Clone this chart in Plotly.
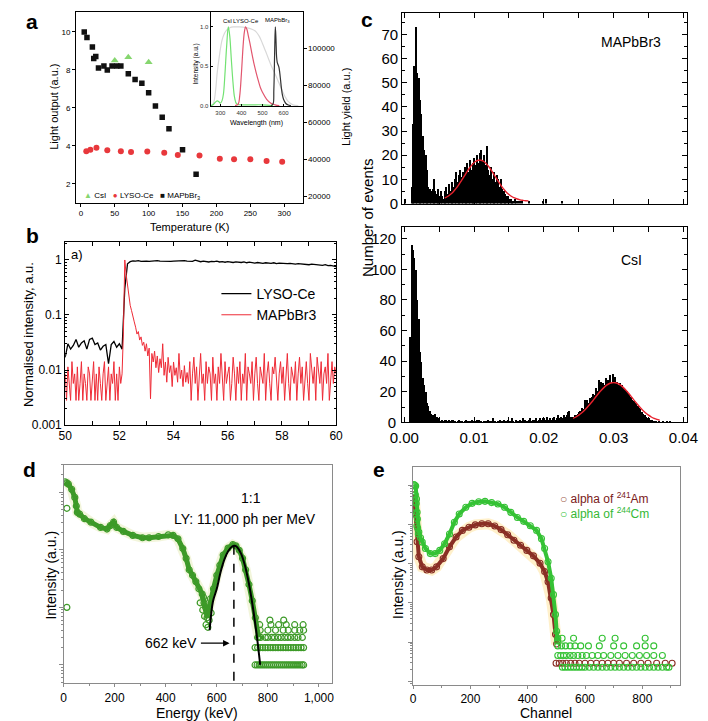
import plotly.graph_objects as go

W, H = 708, 721
FONT = "Liberation Sans, Arial, sans-serif"

# ---------------- panel a : light output vs temperature ----------------
a_temp_mapbbr3 = [5, 9, 17, 19, 22, 26, 34, 39, 46, 53, 59, 70, 80, 90, 100, 110, 120, 130, 150, 170]
a_out_mapbbr3 = [10.0, 9.7, 9.2, 8.6, 8.7, 8.1, 8.2, 8.0, 8.2, 8.2, 8.2, 7.8, 7.5, 7.3, 6.8, 6.1, 5.5, 4.9, 3.8, 2.5]
a_temp_csi = [50, 70, 100]
a_out_csi = [8.5, 8.67, 8.4]
a_temp_lyso = [8, 14, 23, 39, 59, 74, 98, 123, 143, 175, 205, 226, 250, 274, 297]
a_out_lyso = [3.71, 3.80, 3.90, 3.77, 3.71, 3.68, 3.70, 3.63, 3.52, 3.49, 3.32, 3.30, 3.30, 3.20, 3.16]
a_yield_ticks = [20000, 40000, 60000, 80000, 100000]

# inset: emission spectra
a_wl_gray = [262, 270, 278, 285, 295, 308, 320, 330, 345, 362, 390, 423, 450, 469, 485, 500, 515, 531, 546, 562, 578, 592, 608, 623, 645, 670]
a_int_gray = [0, 0.05, 0.2, 0.41, 0.62, 0.83, 0.92, 0.96, 0.99, 1.0, 1.0, 0.99, 0.97, 0.94, 0.88, 0.79, 0.69, 0.58, 0.48, 0.39, 0.29, 0.2, 0.11, 0.05, 0.01, 0]
a_wl_csi = [255, 265, 275, 285, 293, 300, 308, 315, 322, 330, 338, 345, 352, 360, 368, 378, 400, 450, 500, 550]
a_int_csi = [0.0, 0.01, 0.04, 0.06, 0.05, 0.03, 0.06, 0.15, 0.4, 0.75, 1.0, 0.88, 0.6, 0.3, 0.1, 0.02, 0.01, 0.01, 0.01, 0.0]
a_wl_lyso = [370, 385, 392, 400, 408, 414, 420, 426, 432, 440, 450, 460, 470, 480, 490, 500, 520, 540, 560, 580]
a_int_lyso = [0, 0.02, 0.12, 0.4, 0.75, 0.93, 1.0, 0.97, 0.9, 0.8, 0.66, 0.53, 0.42, 0.32, 0.23, 0.17, 0.08, 0.03, 0.01, 0]
a_wl_mapbbr3 = [540, 550, 554, 558, 561, 564, 567, 570, 574, 578, 582, 586, 590, 595, 600, 610, 620, 635]
a_int_mapbbr3 = [0, 0.02, 0.2, 0.7, 1.0, 0.85, 0.62, 0.55, 0.52, 0.49, 0.42, 0.32, 0.22, 0.13, 0.08, 0.03, 0.01, 0]

# ---------------- panel b : normalised decay ----------------
b_t0, b_dt_lyso, b_dt_mapbbr3 = 50.0, 0.1, 0.05
b_lyso = [0.017, 0.03, 0.024, 0.028, 0.036, 0.026, 0.031, 0.034, 0.024, 0.036, 0.038, 0.029, 0.031, 0.023, 0.027, 0.029, 0.013, 0.029, 0.033, 0.026, 0.03,
          0.024, 0.3, 0.85, 0.93,
          0.96, 0.95, 0.97, 0.94, 0.96, 0.95, 0.94, 0.96, 0.95, 0.97, 0.95, 0.94, 0.96, 0.95, 0.94, 0.95, 0.96, 0.94, 0.95, 0.97, 0.95, 0.96, 0.94, 0.99, 0.95,
          0.93, 0.95, 0.94, 0.92, 0.94, 0.93, 0.95, 0.92, 0.93, 0.91, 0.93, 0.92, 0.90, 0.92, 0.91, 0.90, 0.92, 0.89, 0.91, 0.90, 0.88, 0.90, 0.89, 0.87, 0.89,
          0.88, 0.87, 0.89, 0.86, 0.88, 0.87, 0.85, 0.86, 0.87, 0.85, 0.84, 0.86, 0.85, 0.83, 0.84, 0.82, 0.84, 0.83, 0.81, 0.82, 0.80, 0.82, 0.79, 0.80, 0.78, 0.76]
b_mapbbr3 = [0.0085, 0.0028, 0.0114, 0.0057, 0.0028, 0.0142, 0.0057, 0.0085, 0.0028, 0.0114, 0.0028, 0.0057, 0.0142, 0.0028, 0.0085, 0.0057, 0.0028, 0.0114, 0.0085, 0.0028,
             0.0057, 0.0142, 0.0028, 0.0085, 0.0028, 0.0114, 0.0057, 0.0028, 0.0085, 0.0142, 0.0028, 0.0057, 0.0114, 0.0028, 0.0085, 0.0057, 0.0142, 0.0028, 0.0085, 0.0028,
             0.0114, 0.0057, 0.0085,
             0.05, 1.0, 0.55, 0.33, 0.22, 0.15, 0.12, 0.09, 0.075, 0.06, 0.045, 0.05, 0.035, 0.04, 0.028, 0.032, 0.022, 0.03, 0.018, 0.025, 0.003, 0.02, 0.014, 0.022, 0.011,
             0.018, 0.009, 0.016, 0.011, 0.03, 0.008, 0.014, 0.006, 0.017, 0.009, 0.012, 0.005, 0.014, 0.008, 0.011, 0.006, 0.02, 0.007, 0.01, 0.005, 0.012, 0.006, 0.009,
             0.0057, 0.0142, 0.0028, 0.0085, 0.0171, 0.0057, 0.0114, 0.0028, 0.0085, 0.0200, 0.0057, 0.0085, 0.0028, 0.0142, 0.0057, 0.0114, 0.0085, 0.0028, 0.0171, 0.0057,
             0.0085, 0.0028, 0.0114, 0.0057, 0.0200, 0.0085, 0.0028, 0.0142, 0.0057, 0.0085, 0.0114, 0.0028, 0.0057, 0.0171, 0.0085, 0.0028, 0.0114, 0.0057, 0.0142, 0.0028,
             0.0085, 0.0057, 0.0200, 0.0028, 0.0114, 0.0085, 0.0057, 0.0142, 0.0028, 0.0085, 0.0171, 0.0057, 0.0028, 0.0114, 0.0085, 0.0057, 0.0200, 0.0028, 0.0085, 0.0142,
             0.0057, 0.0028, 0.0114, 0.0085, 0.0171, 0.0057, 0.0028, 0.0085, 0.0142, 0.0057, 0.0114, 0.0028, 0.0085, 0.0200, 0.0057, 0.0028, 0.0114, 0.0085, 0.0057, 0.0142,
             0.0028, 0.0085, 0.0171, 0.0057, 0.0114, 0.0028, 0.0085, 0.0142, 0.0057, 0.0028, 0.0200, 0.0085, 0.0057, 0.0114, 0.0028, 0.0171, 0.0085, 0.0057, 0.0142, 0.0028,
             0.0085, 0.0114, 0.0057, 0.0200, 0.0028, 0.0085, 0.0142, 0.0057, 0.0114, 0.0085]

# ---------------- panel c : pulse-height histograms ----------------
c_bin = 0.0002
c_top_start = 0.0001
c_top_counts = [2, 0, 0, 0, 0, 7, 33, 57, 73, 54, 52, 43, 37, 28, 22, 20, 14, 7, 6, 5, 6, 10, 5, 4, 6, 3, 5, 3, 2, 5,
                7, 4, 8, 5, 9, 7, 10, 13, 9, 12, 14, 11, 13, 15, 10, 17, 13, 18, 14, 17, 19, 16, 20, 17, 21, 22, 18, 20, 16, 24,
                14, 12, 15, 10, 13, 9, 12, 10, 7, 10, 6, 5, 4, 3, 3, 2, 2, 1, 1, 2, 1, 1, 0, 1, 1, 0]
c_top_extra_x = [0.0179, 0.0199, 0.0203, 0.0227]
c_top_extra_counts = [1, 1, 2, 1]
c_top_fit_start, c_top_fit_step = 0.0058, 0.0004
c_top_fit = [2.3, 2.9, 3.75, 4.8, 6.15, 7.7, 9.5, 11.3, 13.2, 14.9, 16.3, 17.4, 17.9, 17.9, 17.4, 16.3, 14.9, 13.2, 11.3, 9.5,
             7.7, 6.15, 4.8, 3.75, 2.9, 2.3, 1.85, 1.5, 1.3, 1.15, 1.1]
c_bot_start = 0.0009
c_bot_counts = ([56, 116, 113, 108, 100, 80, 68, 46, 40, 29, 25, 20, 13, 11, 8, 6, 5, 4, 6, 4, 2, 3, 1, 2] +
                [1, 2, 2, 1, 2, 1, 2, 2, 1, 0, 1, 2, 1, 1, 0, 1, 2, 1, 1, 1, 2, 1, 0, 1, 2, 2, 1, 1, 0, 1,
                 1, 0, 2, 1, 1, 3, 1, 1, 0, 1, 2, 1, 1, 2, 0, 1, 2, 1, 1, 3, 1, 0, 2, 1, 1, 2, 1, 3, 2, 1,
                 1, 2, 3, 1, 2, 2, 3, 1, 2, 3, 2, 3] +
                [3, 2, 4, 2, 3, 2, 3, 4, 2, 3, 5, 3, 4, 3, 5, 4, 5, 7, 8, 4] +
                [3, 4, 5, 5, 6, 7, 8, 10, 9, 15, 14, 15, 13, 16, 17, 19, 18, 23, 21, 28, 24, 27, 26, 25, 29, 27, 28, 31, 26, 32] +
                [29, 30, 27, 25, 26, 24, 25, 23, 22, 21, 19, 18, 17, 15, 14, 13, 12, 11, 10, 9, 7, 6, 5, 4, 3, 3, 2, 2, 1, 1, 1] +
                [0, 1, 0, 0, 1, 0, 0, 1, 0, 1])
c_bot_fit_start, c_bot_fit_step = 0.0242, 0.0004
c_bot_fit = [2.6, 3.5, 4.7, 6.1, 7.8, 9.7, 11.8, 14.0, 16.4, 18.7, 20.8, 22.7, 24.3, 25.4, 25.9, 25.9, 25.4, 24.3, 22.7, 20.8,
             18.7, 16.4, 14.0, 11.8, 9.7, 7.8, 6.1, 4.7, 3.5, 2.6, 1.9, 1.4]

# ---------------- panel d : 137Cs spectrum ----------------
d_energy = [6, 13, 19, 32, 44, 50, 54, 63, 82, 107, 145, 170, 183, 196, 208, 234, 271, 309, 335, 372,
            410, 429, 448, 467, 480, 492, 505, 518, 530, 543, 550, 556, 562, 568, 575, 587, 600, 612, 625, 644,
            663, 675, 688, 701, 713, 726, 739, 751, 764]
d_counts = [1514, 1450, 1380, 1122, 813, 575, 447, 417, 347, 302, 245, 229, 263, 302, 245, 209, 178, 162, 162, 170,
            182, 178, 155, 105, 71, 45, 36, 28, 21, 17, 12, 10, 6.6, 9, 14, 21, 36, 54, 81, 107,
            123, 117, 98, 71, 45, 25, 13, 6.6, 3]
d_scatter_energy = [13, 13, 535, 545, 552, 558, 565, 570, 578, 548, 560]
d_scatter_counts = [525, 10, 12, 9, 7, 5, 4.5, 6, 8, 15, 9]
d_floor_energy = ([750, 758, 766, 774, 782, 790, 798, 806, 814, 822, 830, 838, 846, 854, 862, 870, 878, 886, 894, 902, 910, 918, 926, 934, 940] +
                  [750, 760, 770, 780, 790, 800, 810, 820, 830, 840, 850, 860, 870, 880, 890, 900, 910, 920, 930, 940] +
                  [760, 772, 790, 800, 815, 826, 840, 852, 866, 878, 890, 905, 918, 935] +
                  [770, 800, 830, 860, 880, 905, 925, 940] +
                  [768, 812, 842, 872, 905, 938] + [808, 862])
d_floor_counts = [1] * 25 + [2] * 20 + [3] * 14 + [4] * 8 + [5] * 6 + [6] * 2
d_fit_energy = [572, 585, 600, 615, 630, 645, 660, 670, 680, 695, 710, 725, 740, 755, 770]
d_fit_counts = [4, 12.6, 21, 41, 68, 95, 114, 117, 111, 86, 54, 27, 11, 3.7, 1]
d_peak_energy = 667

# ---------------- panel e : alpha spectra ----------------
e_cm_channel = [3, 6, 9, 12, 15, 20, 26, 32, 43, 60, 77, 93, 110, 127, 144, 161, 184, 206, 229, 251,
                274, 296, 319, 341, 364, 386, 409, 431, 448, 459, 471, 482, 490, 497, 501, 504]
e_cm_counts = [45700, 43700, 41700, 19500, 6000, 2800, 2000, 1550, 1070, 790, 790, 955, 1410, 2510, 5000, 8100, 12000, 15100, 16600, 17000,
               15800, 14500, 12000, 8900, 6600, 5250, 4070, 3090, 1900, 1070, 490, 186, 71, 22, 8.3, 4.7]
e_cm_scatter_channel = [5, 7, 8, 10, 11, 13, 14, 16, 18]
e_cm_scatter_counts = [30000, 12000, 25000, 8000, 15000, 4000, 9000, 3500, 2500]
e_am_channel = [3, 8, 14, 20, 32, 48, 65, 82, 105, 127, 150, 172, 195, 217, 240, 262, 285, 307, 330, 352,
                375, 397, 420, 443, 459, 471, 482, 490, 497, 501]
e_am_counts = [25000, 7900, 1580, 660, 363, 302, 302, 363, 589, 1175, 2089, 3090, 3715, 4266, 4571, 4571, 3981, 3236, 2399, 1738,
               1288, 955, 692, 447, 275, 151, 58, 22, 6.9, 3.9]
e_cm_floor_channel = ([521, 530, 540, 550, 560, 570, 580, 590, 600, 615, 630, 645, 660, 675, 690, 705, 720, 735, 750, 765, 780, 795, 810, 825, 840, 855, 870, 885, 893] +
                      [505, 515, 525, 535, 548, 560, 575, 590, 605, 625, 645, 665, 690, 715, 740, 765, 790, 815, 840, 870] +
                      [505, 518, 532, 548, 565, 585, 612, 650, 700, 735, 780, 810, 840] + [505, 520, 560, 660, 705, 810])
e_cm_floor_counts = [1] * 29 + [2] * 20 + [3.5] * 13 + [5.5] * 6
e_am_floor_channel = [499, 510, 522, 535, 550, 565, 580, 600, 620, 640, 660, 680, 700, 720, 745, 770, 795, 820, 850, 880, 904]
e_am_floor_counts = [1.26] * 21

# ---------------- figure ----------------
def dx(l, r):
    return [l / W, r / W]

def dy(t, b):
    return [1 - b / H, 1 - t / H]

fig = go.Figure()

# panel a
fig.add_trace(go.Scatter(x=a_temp_mapbbr3, y=a_out_mapbbr3, mode="markers", xaxis="x", yaxis="y",
                         marker=dict(symbol="square", size=5.5, color="#111111"), showlegend=False))
fig.add_trace(go.Scatter(x=a_temp_csi, y=a_out_csi, mode="markers", xaxis="x", yaxis="y",
                         marker=dict(symbol="triangle-up", size=7, color="#86d66f"), showlegend=False))
fig.add_trace(go.Scatter(x=a_temp_lyso, y=a_out_lyso, mode="markers", xaxis="x", yaxis="y",
                         marker=dict(symbol="circle", size=6, color="#e8383c"), showlegend=False))
fig.add_trace(go.Scatter(x=[150], y=[a_yield_ticks[2]], mode="markers", xaxis="x", yaxis="y2",
                         marker=dict(opacity=0), showlegend=False, hoverinfo="skip"))
# inset
for wl, it, col in [(a_wl_gray, a_int_gray, "#d8d8d8"), (a_wl_csi, a_int_csi, "#72e272"),
                    (a_wl_lyso, a_int_lyso, "#e2566e"), (a_wl_mapbbr3, a_int_mapbbr3, "#333333")]:
    fig.add_trace(go.Scatter(x=wl, y=it, mode="lines", xaxis="x3", yaxis="y3",
                             line=dict(color=col, width=1.2, shape="spline"), showlegend=False))

# panel b
fig.add_trace(go.Scatter(x=[round(b_t0 + b_dt_lyso * i, 3) for i in range(len(b_lyso))], y=b_lyso,
                         mode="lines", xaxis="x4", yaxis="y4", name="LYSO-Ce",
                         line=dict(color="black", width=1.3), legend="legend2"))
fig.add_trace(go.Scatter(x=[round(b_t0 + b_dt_mapbbr3 * i, 3) for i in range(len(b_mapbbr3))], y=b_mapbbr3,
                         mode="lines", xaxis="x4", yaxis="y4", name="MAPbBr3",
                         line=dict(color="#ee2b36", width=1), legend="legend2"))

# panel c
fig.add_trace(go.Bar(x=[c_top_start + c_bin * i for i in range(len(c_top_counts))], y=c_top_counts, width=c_bin,
                     xaxis="x5", yaxis="y5", marker=dict(color="black", line=dict(width=0)), showlegend=False))
fig.add_trace(go.Bar(x=c_top_extra_x, y=c_top_extra_counts, width=c_bin,
                     xaxis="x5", yaxis="y5", marker=dict(color="black", line=dict(width=0)), showlegend=False))
fig.add_trace(go.Scatter(x=[c_top_fit_start + c_top_fit_step * i for i in range(len(c_top_fit))], y=c_top_fit,
                         mode="lines", xaxis="x5", yaxis="y5", line=dict(color="#e8202c", width=1.4, shape="spline"),
                         showlegend=False))
fig.add_trace(go.Bar(x=[c_bot_start + c_bin * i for i in range(len(c_bot_counts))], y=c_bot_counts, width=c_bin,
                     xaxis="x6", yaxis="y6", marker=dict(color="black", line=dict(width=0)), showlegend=False))
fig.add_trace(go.Scatter(x=[c_bot_fit_start + c_bot_fit_step * i for i in range(len(c_bot_fit))], y=c_bot_fit,
                         mode="lines", xaxis="x6", yaxis="y6", line=dict(color="#e8202c", width=1.4, shape="spline"),
                         showlegend=False))

# panel d
D_GREEN = "#3d9a28"
fig.add_trace(go.Scatter(x=d_energy, y=d_counts, mode="lines", xaxis="x7", yaxis="y7",
                         line=dict(color="rgba(205,215,110,0.25)", width=10), showlegend=False, hoverinfo="skip"))
fig.add_trace(go.Scatter(x=d_energy, y=d_counts, mode="lines+markers", xaxis="x7", yaxis="y7",
                         line=dict(color=D_GREEN, width=5),
                         marker=dict(symbol="circle-open", size=6, color=D_GREEN, line=dict(width=1.2)),
                         showlegend=False))
fig.add_trace(go.Scatter(x=d_scatter_energy, y=d_scatter_counts, mode="markers", xaxis="x7", yaxis="y7",
                         marker=dict(symbol="circle-open", size=6, color=D_GREEN, line=dict(width=1.2)),
                         showlegend=False))
fig.add_trace(go.Scatter(x=d_floor_energy, y=d_floor_counts, mode="markers", xaxis="x7", yaxis="y7",
                         marker=dict(symbol="circle-open", size=6, color=D_GREEN, line=dict(width=1.2)),
                         showlegend=False))
fig.add_trace(go.Scatter(x=d_fit_energy, y=d_fit_counts, mode="lines", xaxis="x7", yaxis="y7",
                         line=dict(color="black", width=2, shape="spline"), showlegend=False))
fig.add_trace(go.Scatter(x=[d_peak_energy, d_peak_energy], y=[d_fit_counts[7], 0.48], mode="lines",
                         xaxis="x7", yaxis="y7", line=dict(color="black", width=1.5, dash="dash"), showlegend=False))

# panel e
E_GREEN = "#35c235"
E_BROWN = "#8a2f25"
fig.add_trace(go.Scatter(x=e_am_channel, y=e_am_counts, mode="lines", xaxis="x8", yaxis="y8",
                         line=dict(color="rgba(255,225,150,0.5)", width=11), showlegend=False, hoverinfo="skip"))
fig.add_trace(go.Scatter(x=e_am_channel, y=e_am_counts, mode="lines+markers", xaxis="x8", yaxis="y8",
                         line=dict(color=E_BROWN, width=4),
                         marker=dict(symbol="circle-open", size=6, color=E_BROWN, line=dict(width=1.1)),
                         showlegend=False))
fig.add_trace(go.Scatter(x=e_am_floor_channel, y=e_am_floor_counts, mode="markers", xaxis="x8", yaxis="y8",
                         marker=dict(symbol="circle-open", size=6, color=E_BROWN, line=dict(width=1.1)),
                         showlegend=False))
fig.add_trace(go.Scatter(x=e_cm_channel, y=e_cm_counts, mode="lines+markers", xaxis="x8", yaxis="y8",
                         line=dict(color=E_GREEN, width=4),
                         marker=dict(symbol="circle-open", size=6, color=E_GREEN, line=dict(width=1.1)),
                         showlegend=False))
fig.add_trace(go.Scatter(x=e_cm_scatter_channel, y=e_cm_scatter_counts, mode="markers", xaxis="x8", yaxis="y8",
                         marker=dict(symbol="circle-open", size=6, color=E_GREEN, line=dict(width=1.1)),
                         showlegend=False))
fig.add_trace(go.Scatter(x=e_cm_floor_channel, y=e_cm_floor_counts, mode="markers", xaxis="x8", yaxis="y8",
                         marker=dict(symbol="circle-open", size=6, color=E_GREEN, line=dict(width=1.1)),
                         showlegend=False))

# ---------------- axes ----------------
def base(**kw):
    d = dict(showgrid=False, zeroline=False, showline=True, linecolor="black", linewidth=1,
             mirror=True, ticks="outside", ticklen=3, tickcolor="black", tickwidth=1,
             tickfont=dict(family=FONT, size=8, color="black"))
    d.update(kw)
    return d

def log_minor(decades):
    return [m * 10 ** k for k in decades for m in range(2, 10)]

gray = "#8a8a8a"
layout_axes = dict(
    xaxis=base(domain=dx(58, 292), range=[-7, 327], anchor="y", tickvals=[0, 50, 100, 150, 200, 250, 300]),
    yaxis=base(domain=dy(4, 197), range=[1.0, 11.05], anchor="x", tickvals=[2, 4, 6, 8, 10]),
    yaxis2=base(overlaying="y", side="right", range=[16640, 119573], anchor="x", tickvals=a_yield_ticks,
                tickformat="d", mirror=False),
    xaxis3=base(domain=dx(197, 292), range=[254, 690], anchor="y3", tickvals=[300, 400, 500, 600], ticks="inside",
                ticklen=2, tickfont=dict(family=FONT, size=6, color="#333")),
    yaxis3=base(domain=dy(4, 99.5), range=[-0.01, 1.19], anchor="x3", tickvals=[0, 0.5, 1.0], tickformat=".1f",
                ticks="inside", ticklen=2, tickfont=dict(family=FONT, size=6, color="#333")),
    xaxis4=base(domain=dx(46.7, 326.7), range=[50, 60], anchor="y4", ticks="inside", mirror="allticks", ticklen=4,
                tickvals=[50, 52, 54, 56, 58, 60],
                minor=dict(tickvals=[51, 53, 55, 57, 59], ticks="inside", ticklen=4, tickcolor="black"),
                tickfont=dict(family=FONT, size=12, color="black")),
    yaxis4=base(domain=dy(237, 421.7), type="log", range=[-3, 0.32], anchor="x4", ticks="inside", mirror="allticks",
                ticklen=4, tickvals=[0.001, 0.01, 0.1, 1], ticktext=["0.001", "0.01", "0.1", "1"],
                minor=dict(tickvals=log_minor([-3, -2, -1, 0]), ticks="inside", ticklen=2, tickcolor="black"),
                tickfont=dict(family=FONT, size=12, color="black")),
    xaxis5=base(domain=dx(395, 689.3), range=[-0.0003, 0.0405], anchor="y5", ticks="inside", mirror="allticks",
                ticklen=5, tickvals=[0.005 * i for i in range(9)], showticklabels=False),
    yaxis5=base(domain=dy(5, 197.7), range=[0, 78.9], anchor="x5", ticks="inside", mirror="allticks", ticklen=5,
                tickvals=[0, 10, 20, 30, 40, 50, 60, 70],
                minor=dict(tickvals=[5, 15, 25, 35, 45, 55, 65, 75], ticks="inside", ticklen=3, tickcolor="black"),
                tickfont=dict(family=FONT, size=15, color="black")),
    xaxis6=base(domain=dx(395, 689.3), range=[-0.0003, 0.0405], anchor="y6", ticks="inside", mirror="allticks",
                ticklen=5, tickvals=[0.0, 0.01, 0.02, 0.03, 0.04], tickformat=".2f", ticklabelstandoff=2,
                minor=dict(tickvals=[0.005, 0.015, 0.025, 0.035], ticks="inside", ticklen=5, tickcolor="black"),
                tickfont=dict(family=FONT, size=15, color="black")),
    yaxis6=base(domain=dy(221, 419), range=[0, 128], anchor="x6", ticks="inside", mirror="allticks", ticklen=5,
                tickvals=[0, 20, 40, 60, 80, 100, 120], ticklabelstandoff=2,
                minor=dict(tickvals=[10, 30, 50, 70, 90, 110], ticks="inside", ticklen=3, tickcolor="black"),
                tickfont=dict(family=FONT, size=15, color="black")),
    xaxis7=base(domain=dx(45, 322.7), range=[0, 1052], anchor="y7", linecolor=gray, tickcolor=gray,
                tickvals=[0, 200, 400, 600, 800, 1000], tickformat=",",
                minor=dict(tickvals=[100, 300, 500, 700, 900], ticks="outside", ticklen=2, tickcolor=gray),
                tickfont=dict(family=FONT, size=12, color="black")),
    yaxis7=base(domain=dy(461.7, 682.7), type="log", range=[-0.316, 3.48], anchor="x7", linecolor=gray,
                tickcolor=gray, tickvals=[1, 10, 100, 1000], showticklabels=False, ticklen=4,
                minor=dict(tickvals=log_minor([-1, 0, 1, 2, 3]), ticks="outside", ticklen=2, tickcolor=gray)),
    xaxis8=base(domain=dx(406.3, 681.7), range=[0, 930], anchor="y8", linecolor=gray, tickcolor=gray,
                tickvals=[0, 200, 400, 600, 800],
                minor=dict(tickvals=[100, 300, 500, 700, 900], ticks="outside", ticklen=2, tickcolor=gray),
                tickfont=dict(family=FONT, size=12, color="black")),
    yaxis8=base(domain=dy(464, 684.3), type="log", range=[-0.445, 5.11], anchor="x8", linecolor=gray,
                tickcolor=gray, tickvals=[0.44, 4.4, 44, 440, 4400, 44000], showticklabels=False, ticklen=4,
                minor=dict(tickvals=[0.44 * m * 10 ** k for k in range(-1, 5) for m in range(2, 10)],
                           ticks="outside", ticklen=2, tickcolor=gray)),
)

# ---------------- annotations ----------------
def txt(x, y, text, size=12, angle=0, xanchor="center", bold=False, color="black"):
    if bold:
        text = "<b>" + text + "</b>"
    return dict(x=x / W, y=1 - y / H, xref="paper", yref="paper", text=text, showarrow=False,
                textangle=angle, xanchor=xanchor, yanchor="middle",
                font=dict(family=FONT, size=size, color=color))

annotations = [
    txt(12, 14, "a", 21, bold=True),
    txt(13, 230, "b", 21, bold=True),
    txt(359, 12, "c", 21, bold=True),
    txt(10, 467, "d", 21, bold=True),
    txt(371, 467, "e", 21, bold=True),
    # panel a
    txt(35, 100, "Light output (a.u.)", 11, -90),
    txt(337, 100, "Light yield (a.u.)", 11, -90),
    txt(175, 221, "Temperature (K)", 11),
    txt(64, 190, '<span style="color:#86d66f">▲</span> CsI   <span style="color:#e8383c">●</span> LYSO-Ce   '
                 '<span style="color:#111">■</span> MAPbBr<sub>3</sub>', 8, xanchor="left"),
    txt(182, 57, "Intensity (a.u.)", 6.5, -90),
    txt(244, 116, "Wavelength (nm)", 7),
    txt(214, 13, "CsI", 6),
    txt(234, 13, "LYSO-Ce", 6),
    txt(266, 13, "MAPbBr<sub>3</sub>", 6),
    # panel b
    txt(51, 249, "a)", 13, xanchor="left"),
    txt(9, 330, "Normalised intensity, a.u.", 13, -90),
    # panel c
    txt(359, 212, "Number of events", 15, -90),
    txt(631, 34, "MAPbBr3", 14),
    txt(632, 255, "CsI", 14),
    # panel d
    txt(32, 573, "Intensity (a.u.)", 14, -90),
    txt(183, 713, "Energy (keV)", 14),
    txt(239, 495, "1:1", 14),
    txt(233, 517, "LY: 11,000 ph per MeV", 14),
    dict(x=650, y=0.378, xref="x7", yref="y7", ax=532, ay=0.378, axref="x7", ayref="y7",
         text="", showarrow=True, arrowhead=2, arrowsize=1, arrowwidth=1.3, arrowcolor="black"),
    dict(x=532, y=0.378, xref="x7", yref="y7", text="662 keV", showarrow=False, xanchor="right",
         yanchor="middle", font=dict(family=FONT, size=14, color="black")),
    # panel e
    txt(390, 573, "Intensity (a.u.)", 14, -90),
    txt(544, 713, "Channel", 14),
    txt(556, 496, '<span style="color:#9a5a48">○</span> alpha of <sup>241</sup>Am', 12, xanchor="left",
        color="#7a2020"),
    txt(556, 511, '<span style="color:#35c235">○</span> alpha of <sup>244</sup>Cm', 12, xanchor="left",
        color="#35b835"),
]

fig.update_layout(
    width=W, height=H, autosize=False,
    margin=dict(l=0, r=0, t=0, b=0),
    paper_bgcolor="white", plot_bgcolor="white",
    barmode="overlay", bargap=0,
    font=dict(family=FONT, color="black"),
    showlegend=True,
    legend2=dict(x=203 / W, y=1 - 273 / H, xanchor="left", yanchor="top", bgcolor="rgba(0,0,0,0)",
                 font=dict(family=FONT, size=14, color="black"), tracegroupgap=0),
    annotations=annotations,
    **layout_axes,
)

fig.write_html("out.html")
